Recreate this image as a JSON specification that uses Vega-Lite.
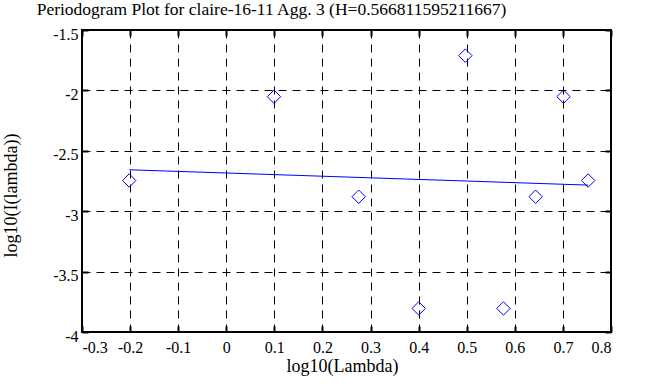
{
  "$schema": "https://vega.github.io/schema/vega-lite/v6.json",
  "width": 529,
  "height": 302,
  "autosize": "none",
  "padding": {"left": 82, "top": 30, "right": 52, "bottom": 55},
  "background": "white",
  "config": {
    "view": {"stroke": "black", "strokeWidth": 2},
    "axis": {
      "labelFont": "Liberation Serif",
      "labelFontSize": 16,
      "labelColor": "black",
      "titleFont": "Liberation Serif",
      "titleFontSize": 18,
      "titleFontWeight": "normal",
      "titleColor": "black",
      "domain": false,
      "tickColor": "black",
      "tickWidth": 2,
      "tickSize": -6,
      "gridColor": "black",
      "gridOpacity": 1,
      "gridDash": [8, 6],
      "gridWidth": 1
    }
  },
  "title": {
    "text": "Periodogram Plot for claire-16-11 Agg. 3 (H=0.566811595211667)",
    "font": "Liberation Serif",
    "fontSize": 17.5,
    "fontWeight": "normal",
    "color": "black",
    "anchor": "middle",
    "frame": "group",
    "dx": -75,
    "offset": 8
  },
  "datasets": {
    "pts": [
      {"x": -0.2018, "y": -2.746},
      {"x": 0.0992, "y": -2.052},
      {"x": 0.2753, "y": -2.88},
      {"x": 0.4002, "y": -3.805},
      {"x": 0.4971, "y": -1.712},
      {"x": 0.5763, "y": -3.805},
      {"x": 0.6433, "y": -2.88},
      {"x": 0.7013, "y": -2.052},
      {"x": 0.7525, "y": -2.746}
    ],
    "fit": [
      {"x": -0.2018, "y": -2.657},
      {"x": 0.7525, "y": -2.784}
    ]
  },
  "layer": [
    {
      "data": {"name": "pts"},
      "mark": {"type": "point", "shape": "diamond", "filled": false, "color": "#0000ff", "size": 180, "strokeWidth": 1, "opacity": 1},
      "encoding": {
        "x": {
          "field": "x", "type": "quantitative",
          "scale": {"domain": [-0.3, 0.8], "nice": false, "zero": false},
          "axis": {
            "orient": "bottom", "title": "log10(Lambda)", "grid": true,
            "values": [-0.3, -0.2, -0.1, 0, 0.1, 0.2, 0.3, 0.4, 0.5, 0.6, 0.7, 0.8],
            "labelExpr": "'' + datum.value",
            "labelPadding": 13, "titlePadding": 2,
            "titleX": 260
          }
        },
        "y": {
          "field": "y", "type": "quantitative",
          "scale": {"domain": [-4, -1.5], "nice": false, "zero": false},
          "axis": {
            "orient": "left", "title": "log10(I(lambda))", "grid": true,
            "values": [-4, -3.5, -3, -2.5, -2, -1.5],
            "labelExpr": "'' + datum.value",
            "labelPadding": 10, "labelOffset": 4,
            "titlePadding": 32,
            "titleY": 165
          }
        }
      }
    },
    {
      "data": {"name": "fit"},
      "mark": {"type": "line", "color": "#0000ff", "strokeWidth": 1},
      "encoding": {
        "x": {"field": "x", "type": "quantitative", "axis": null},
        "y": {"field": "y", "type": "quantitative", "axis": null}
      }
    },
    {
      "data": {"name": "pts"},
      "mark": {"type": "point", "opacity": 0},
      "encoding": {
        "x": {
          "field": "x", "type": "quantitative",
          "axis": {"orient": "top", "labels": false, "title": null, "grid": false,
                   "values": [-0.3, -0.2, -0.1, 0, 0.1, 0.2, 0.3, 0.4, 0.5, 0.6, 0.7, 0.8]}
        },
        "y": {
          "field": "y", "type": "quantitative",
          "axis": {"orient": "right", "labels": false, "title": null, "grid": false,
                   "values": [-4, -3.5, -3, -2.5, -2, -1.5]}
        }
      }
    }
  ],
  "resolve": {"axis": {"x": "independent", "y": "independent"}}
}
